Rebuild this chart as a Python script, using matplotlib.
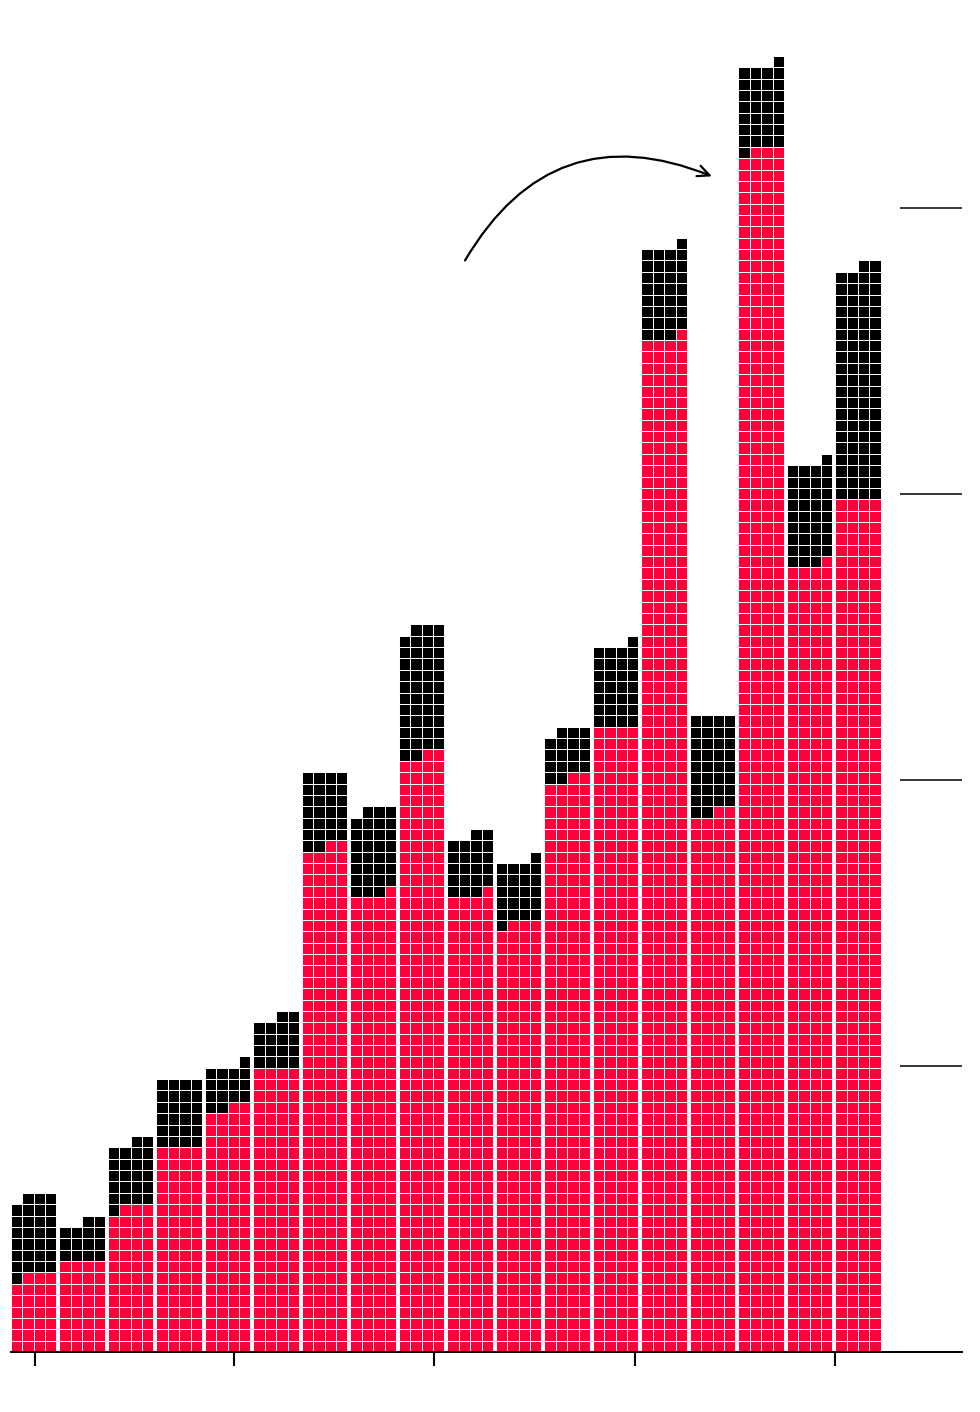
import matplotlib
matplotlib.use("Agg")
import matplotlib.pyplot as plt
from matplotlib.patches import Rectangle
from matplotlib.collections import PatchCollection

# cells per bar (each cell is one square)
red_cells = [27, 32, 51, 72, 86, 100, 178, 161, 210, 161, 151, 202, 220, 357, 190, 423, 277, 300]
black_cells = [28, 14, 23, 24, 15, 18, 26, 30, 45, 21, 22, 17, 29, 32, 34, 30, 36, 82]

# axis ticks in cell units (no labels on the chart)
x_ticks = [2.11, 19.65, 37.27, 54.98, 72.6]
y_ticks = [0, 25.2, 50.4, 75.6, 100.8]

RED = '#ff003b'
BLACK = '#000000'
COLS = 4          # cells per row in a bar
PITCH = 4.265     # bar spacing in cell units
CELL_PX = 11.37   # size of one cell in pixels


def waffle_cells(i, n_red, n_black):
    """Cells fill rows from the bottom, right to left in each row."""
    patches, colors = [], []
    x0 = i * PITCH
    for k in range(n_red + n_black):
        row = k // COLS
        col = COLS - 1 - (k % COLS)
        patches.append(Rectangle((x0 + col, row), 1, 1))
        colors.append(RED if k < n_red else BLACK)
    return patches, colors


fig = plt.figure(figsize=(9.8, 14.12), dpi=100)
ax = fig.add_axes([0, 60 / 1412, 962 / 980, 1352 / 1412])
ax.set_xlim(-11 / CELL_PX, 951 / CELL_PX)
ax.set_ylim(0, 1352 / CELL_PX)

all_patches, all_colors = [], []
for i, (r, b) in enumerate(zip(red_cells, black_cells)):
    p, c = waffle_cells(i, r, b)
    all_patches += p
    all_colors += c

coll = PatchCollection(all_patches, facecolors=all_colors, edgecolors='white',
                       linewidths=0.7)
ax.add_collection(coll)

# curved arrow pointing at the tallest bar
ax.annotate('', xy=(61.65, 103.4), xytext=(39.93, 96.0),
            arrowprops=dict(arrowstyle='->,head_length=0.85,head_width=0.4',
                            connectionstyle='arc3,rad=-0.43', lw=1.6,
                            color='black', shrinkA=0, shrinkB=0))

for s in ['top', 'left', 'right']:
    ax.spines[s].set_visible(False)
ax.spines['bottom'].set_linewidth(1.4)
ax.spines['bottom'].set_bounds(0, 951 / CELL_PX)

ax.set_xticks([t * 11.35 / CELL_PX for t in x_ticks])
ax.set_xticklabels([])
ax.tick_params(axis='x', direction='out', length=10, width=1.5, color='black')

ax.yaxis.tick_right()
ax.set_yticks([t * 11.35 / CELL_PX for t in y_ticks])
ax.set_yticklabels([])
ax.tick_params(axis='y', direction='in', length=44.6, width=1.1, color='black')

fig.savefig('out.png', dpi=100)
